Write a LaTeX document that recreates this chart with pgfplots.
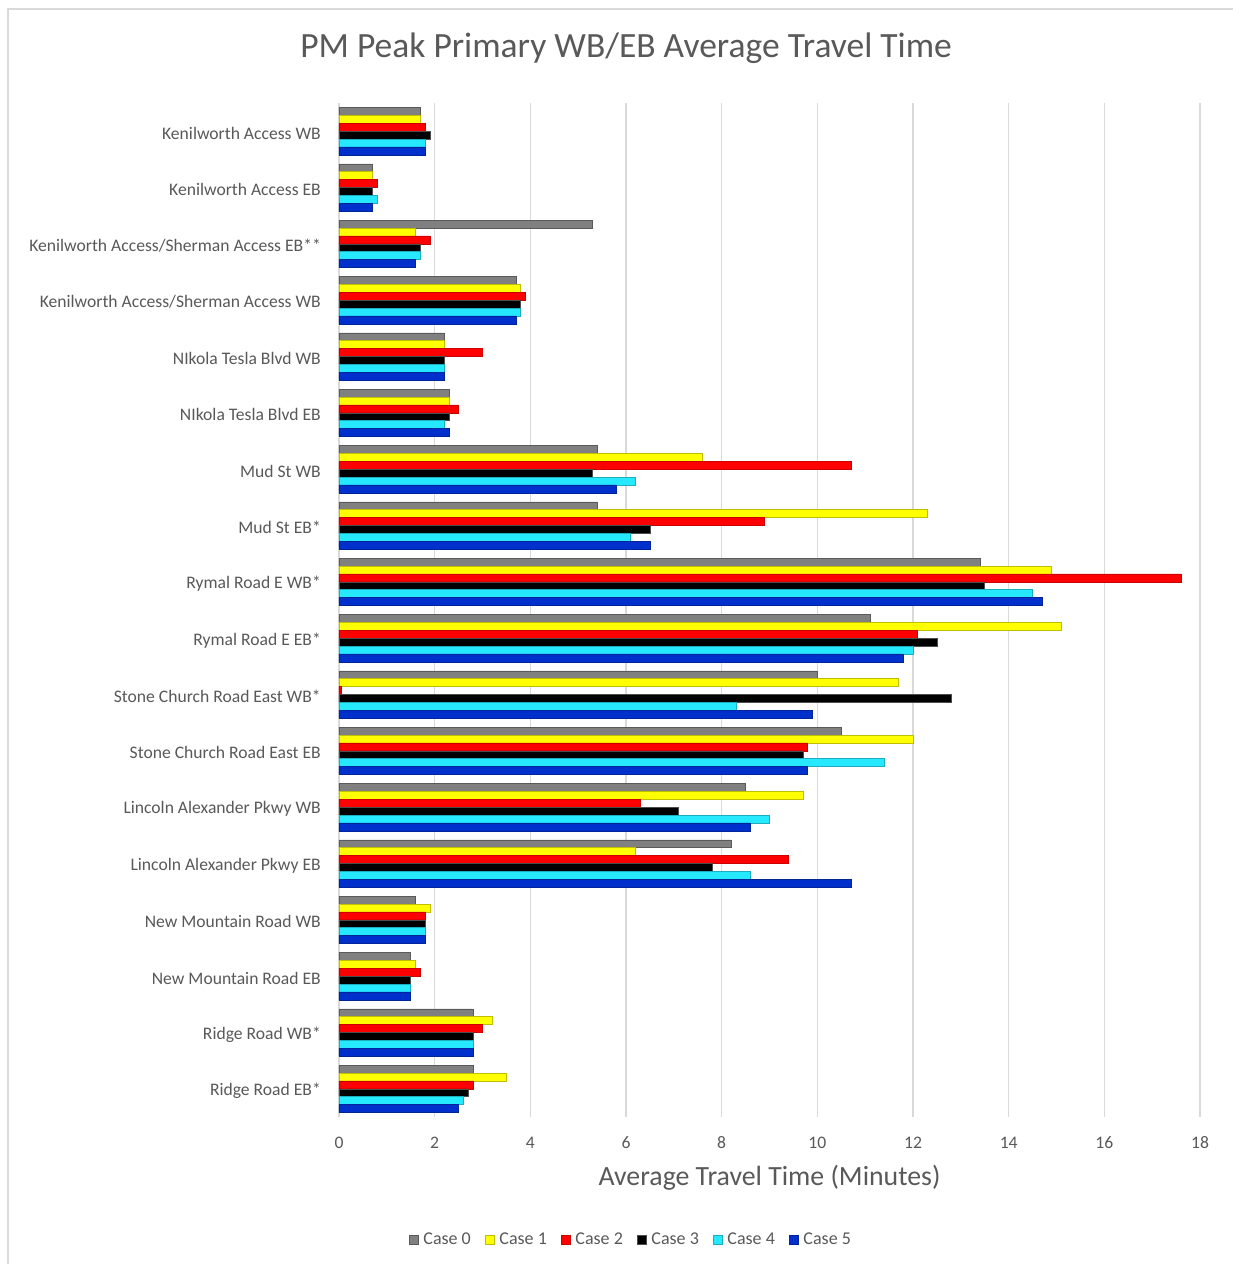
\documentclass[border=0pt]{standalone}
\usepackage{pgfplots}
\pgfplotsset{compat=1.18}
\usepackage{pgfplotstable}
\usepackage{fontspec}
\setmainfont{Carlito}

\definecolor{txt}{RGB}{89,89,89}
\definecolor{gridc}{RGB}{217,217,217}
\definecolor{cgray}{RGB}{128,128,128}
\definecolor{cyellow}{RGB}{255,255,0}
\definecolor{cred}{RGB}{255,0,0}
\definecolor{cblack}{RGB}{0,0,0}
\definecolor{ccyan}{RGB}{38,232,255}
\definecolor{cblue}{RGB}{0,48,204}

% travel times in minutes, one row per segment (top to bottom)
\pgfplotstableread{
y  c0   c1   c2   c3   c4   c5
0  1.7  1.7  1.8  1.9  1.8  1.8
1  0.7  0.7  0.8  0.7  0.8  0.7
2  5.3  1.6  1.9  1.7  1.7  1.6
3  3.7  3.8  3.9  3.8  3.8  3.7
4  2.2  2.2  3.0  2.2  2.2  2.2
5  2.3  2.3  2.5  2.3  2.2  2.3
6  5.4  7.6  10.7 5.3  6.2  5.8
7  5.4  12.3 8.9  6.5  6.1  6.5
8  13.4 14.9 17.6 13.5 14.5 14.7
9  11.1 15.1 12.1 12.5 12.0 11.8
10 10.0 11.7 0.05 12.8 8.3  9.9
11 10.5 12.0 9.8  9.7  11.4 9.8
12 8.5  9.7  6.3  7.1  9.0  8.6
13 8.2  6.2  9.4  7.8  8.6  10.7
14 1.6  1.9  1.8  1.8  1.8  1.8
15 1.5  1.6  1.7  1.5  1.5  1.5
16 2.8  3.2  3.0  2.8  2.8  2.8
17 2.8  3.5  2.8  2.7  2.6  2.5
}\datatable

\begin{document}
\begin{tikzpicture}
\useasboundingbox (0pt,0pt) rectangle (1233pt,-1264pt);
\fill[white] (0pt,0pt) rectangle (1233pt,-1264pt);
% chart frame
\draw[gridc, line width=2pt] (8pt,-1270pt) -- (8pt,-9pt) -- (1240pt,-9pt);

\node[txt, font=\fontsize{35.5}{42}\selectfont, anchor=center] at (626pt,-48pt)
  {PM Peak Primary WB/EB Average Travel Time};

\begin{axis}[
  at={(339pt,-1117pt)}, anchor=south west,
  width=861pt, height=1014pt, scale only axis,
  xbar, bar width=0.14,
  xmin=0, xmax=18, ymin=-0.5, ymax=17.5,
  y dir=reverse,
  xtick={0,2,...,18},
  ytick={0,...,17},
  yticklabels={
    Kenilworth Access WB,
    Kenilworth Access EB,
    Kenilworth Access/Sherman Access EB**,
    Kenilworth Access/Sherman Access WB,
    NIkola Tesla Blvd WB,
    NIkola Tesla Blvd EB,
    Mud St WB,
    Mud St EB*,
    Rymal Road E WB*,
    Rymal Road E EB*,
    Stone Church Road East WB*,
    Stone Church Road East EB,
    Lincoln Alexander Pkwy WB,
    Lincoln Alexander Pkwy EB,
    New Mountain Road WB,
    New Mountain Road EB,
    Ridge Road WB*,
    Ridge Road EB*},
  /pgf/number format/assume math mode=true,
  tick label style={txt, font=\fontsize{17.6}{21}\selectfont, inner sep=0pt},
  xticklabel style={anchor=center, yshift=-26pt},
  yticklabel style={anchor=east, xshift=-18pt, yshift=-2pt},
  axis line style={draw=none},
  major tick length=0pt,
  xmajorgrids, major grid style={gridc, line width=1.4pt},
  xlabel={Average Travel Time (Minutes)},
  xlabel style={txt, font=\fontsize{27.8}{33}\selectfont, at={(axis description cs:0.5,-0.0602)}, anchor=center, inner sep=0pt},
  legend columns=6,
  legend style={draw=none, fill=none, at={(0.339,-0.121)}, anchor=center,
    font=\fontsize{18}{21}\selectfont, text=txt,
    /tikz/every odd column/.append style={column sep=3pt},
    /tikz/every even column/.append style={column sep=12pt}},
  legend image code/.code={\fill[#1] (0pt,-4.5pt) rectangle (9pt,4.5pt);},
]
\addplot[fill=cgray, draw=cgray!70!black, line width=0.6pt, bar shift=-0.35] table[x=c0, y=y] {\datatable};
\addplot[fill=cyellow, draw=cyellow!75!black, line width=0.6pt, bar shift=-0.21] table[x=c1, y=y] {\datatable};
\addplot[fill=cred, draw=cred!80!black, line width=0.6pt, bar shift=-0.07] table[x=c2, y=y] {\datatable};
\addplot[fill=cblack, draw=cgray!60!black, line width=0.6pt, bar shift=0.07] table[x=c3, y=y] {\datatable};
\addplot[fill=ccyan, draw=ccyan!75!black, line width=0.6pt, bar shift=0.21] table[x=c4, y=y] {\datatable};
\addplot[fill=cblue, draw=cblue!75!black, line width=0.6pt, bar shift=0.35] table[x=c5, y=y] {\datatable};
\legend{Case 0, Case 1, Case 2, Case 3, Case 4, Case 5}
\end{axis}
\end{tikzpicture}
\end{document}
